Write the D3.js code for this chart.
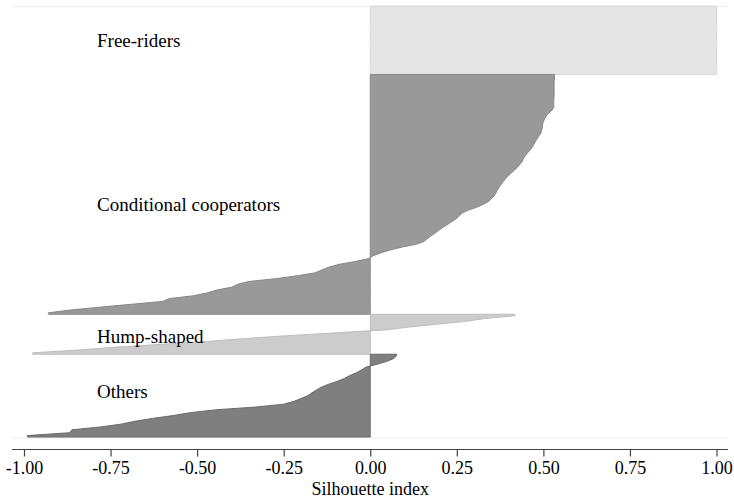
<!DOCTYPE html>
<html>
<head>
<meta charset="utf-8">
<script src="https://cdn.jsdelivr.net/npm/d3@7"></script>
<style>
  html, body { margin: 0; padding: 0; background: #fff; }
  svg { display: block; }
  text { font-family: "Liberation Serif", "Times New Roman", Times, serif; fill: #000; }
</style>
</head>
<body>
<svg id="chart" width="734" height="502"></svg>
<script>
// Cluster names, in plotting order (top to bottom)
const clusterNames = ["Free-riders", "Conditional cooperators", "Hump-shaped", "Others"];

// Silhouette values per observation, sorted from highest to lowest within each cluster
const freeRiders = [
  1.00, 1.00, 1.00, 1.00, 1.00, 1.00, 1.00, 1.00, 1.00, 1.00, 1.00, 1.00,
  1.00, 1.00, 1.00, 1.00, 1.00, 1.00, 1.00, 1.00, 1.00, 1.00, 1.00, 1.00
];

const conditionalCooperators = [
  0.532, 0.532, 0.531, 0.531, 0.531, 0.531, 0.531, 0.531, 0.530, 0.530, 0.530, 0.530,
  0.525, 0.516, 0.508, 0.504, 0.500, 0.498, 0.497, 0.495, 0.493, 0.487, 0.482, 0.477,
  0.472, 0.468, 0.461, 0.454, 0.448, 0.442, 0.439, 0.432, 0.425, 0.417, 0.407, 0.398,
  0.391, 0.384, 0.378, 0.372, 0.367, 0.363, 0.358, 0.350, 0.342, 0.326, 0.308, 0.283,
  0.266, 0.257, 0.249, 0.236, 0.224, 0.210, 0.199, 0.188, 0.176, 0.165, 0.155, 0.132,
  0.090, 0.057, 0.030, 0.008, -0.005, -0.043, -0.090, -0.120, -0.140, -0.161, -0.210, -0.270,
  -0.350, -0.383, -0.400, -0.443, -0.470, -0.510, -0.580, -0.600, -0.690, -0.780, -0.865, -0.930
];

const humpShaped = [
  0.418, 0.330, 0.275, 0.190, 0.110, 0.045,
  -0.100, -0.240, -0.360, -0.470, -0.600, -0.730, -0.840, -0.975
];

const others = [
  0.076, 0.068, 0.048, 0.020, -0.012, -0.025, -0.040, -0.060, -0.075, -0.095,
  -0.120, -0.140, -0.155, -0.168, -0.180, -0.200, -0.220, -0.250, -0.330, -0.450,
  -0.520, -0.570, -0.630, -0.680, -0.720, -0.780, -0.862, -0.868, -0.990
];

const clusterValues = [freeRiders, conditionalCooperators, humpShaped, others];

const xTickValues = [-1.00, -0.75, -0.50, -0.25, 0.00, 0.25, 0.50, 0.75, 1.00];
const xAxisTitle = "Silhouette index";

// Drawing styles per cluster
const fills   = ["#e5e5e5", "#999999", "#cccccc", "#7f7f7f"];
const strokes = ["#d9d9d9", "#888888", "#bdbdbd", "#6a6a6a"];

const svg = d3.select("#chart");
const W = 734, H = 502;

const plotLeft = 12, plotRight = 728;
const plotTop = 6, plotBottom = 437;
const axisY = 449.5;

const x = d3.scaleLinear().domain([-1, 1]).range([24, 716.5]);

// One band per observation, stacked over all clusters
const total = d3.sum(clusterValues, v => v.length);
const y = d3.scaleBand().domain(d3.range(total)).range([plotTop, plotBottom]).padding(0);

// light reference lines at the top and bottom of the plot region
svg.append("g").selectAll("line")
  .data([plotTop + 0.5, plotBottom + 1])
  .join("line")
  .attr("x1", plotLeft).attr("x2", plotRight)
  .attr("y1", d => d).attr("y2", d => d)
  .attr("stroke", "#e6eef0").attr("stroke-width", 1.2);

const area = d3.area()
  .x0(x(0))
  .x1(d => x(d.v))
  .y(d => d.y)
  .curve(d3.curveLinear);

let offset = 0;
const gClusters = svg.append("g");
const bands = [];
clusterValues.forEach((vals, ci) => {
  const pts = vals.map((v, i) => ({ v, y: y(offset + i) + y.bandwidth() / 2 }));
  const top = y(offset);
  const bottom = y(offset + vals.length - 1) + y.bandwidth();
  const path = [{ v: vals[0], y: top }, ...pts, { v: vals[vals.length - 1], y: bottom }];
  gClusters.append("path")
    .attr("d", area(path))
    .attr("fill", fills[ci])
    .attr("stroke", strokes[ci])
    .attr("stroke-width", 1)
    .attr("stroke-linejoin", "round");
  bands.push({ top, bottom });
  offset += vals.length;
});

// cluster labels at the left
const labelShift = [7, 16.5, 8.5, 2];
svg.append("g").selectAll("text")
  .data(clusterNames)
  .join("text")
  .attr("x", 97)
  .attr("y", (d, i) => (bands[i].top + bands[i].bottom) / 2 + labelShift[i])
  .attr("font-size", 19)
  .text(d => d);

// x axis
const axis = d3.axisBottom(x)
  .tickValues(xTickValues)
  .tickFormat(d => d.toFixed(2))
  .tickSize(7)
  .tickSizeOuter(0)
  .tickPadding(5);

const gAxis = svg.append("g").attr("transform", `translate(0,${axisY})`).call(axis);
gAxis.select(".domain").remove();
gAxis.selectAll(".tick line").attr("stroke", "#444").attr("stroke-width", 1.2);
gAxis.selectAll(".tick text")
  .attr("font-family", "\"Liberation Serif\", \"Times New Roman\", serif")
  .attr("font-size", 18)
  .attr("fill", "#000");
gAxis.append("line")
  .attr("x1", plotLeft).attr("x2", plotRight)
  .attr("y1", 0).attr("y2", 0)
  .attr("stroke", "#444").attr("stroke-width", 1.2);

svg.append("text")
  .attr("x", x(0))
  .attr("y", 495)
  .attr("text-anchor", "middle")
  .attr("font-size", 18)
  .text(xAxisTitle);
</script>
</body>
</html>
